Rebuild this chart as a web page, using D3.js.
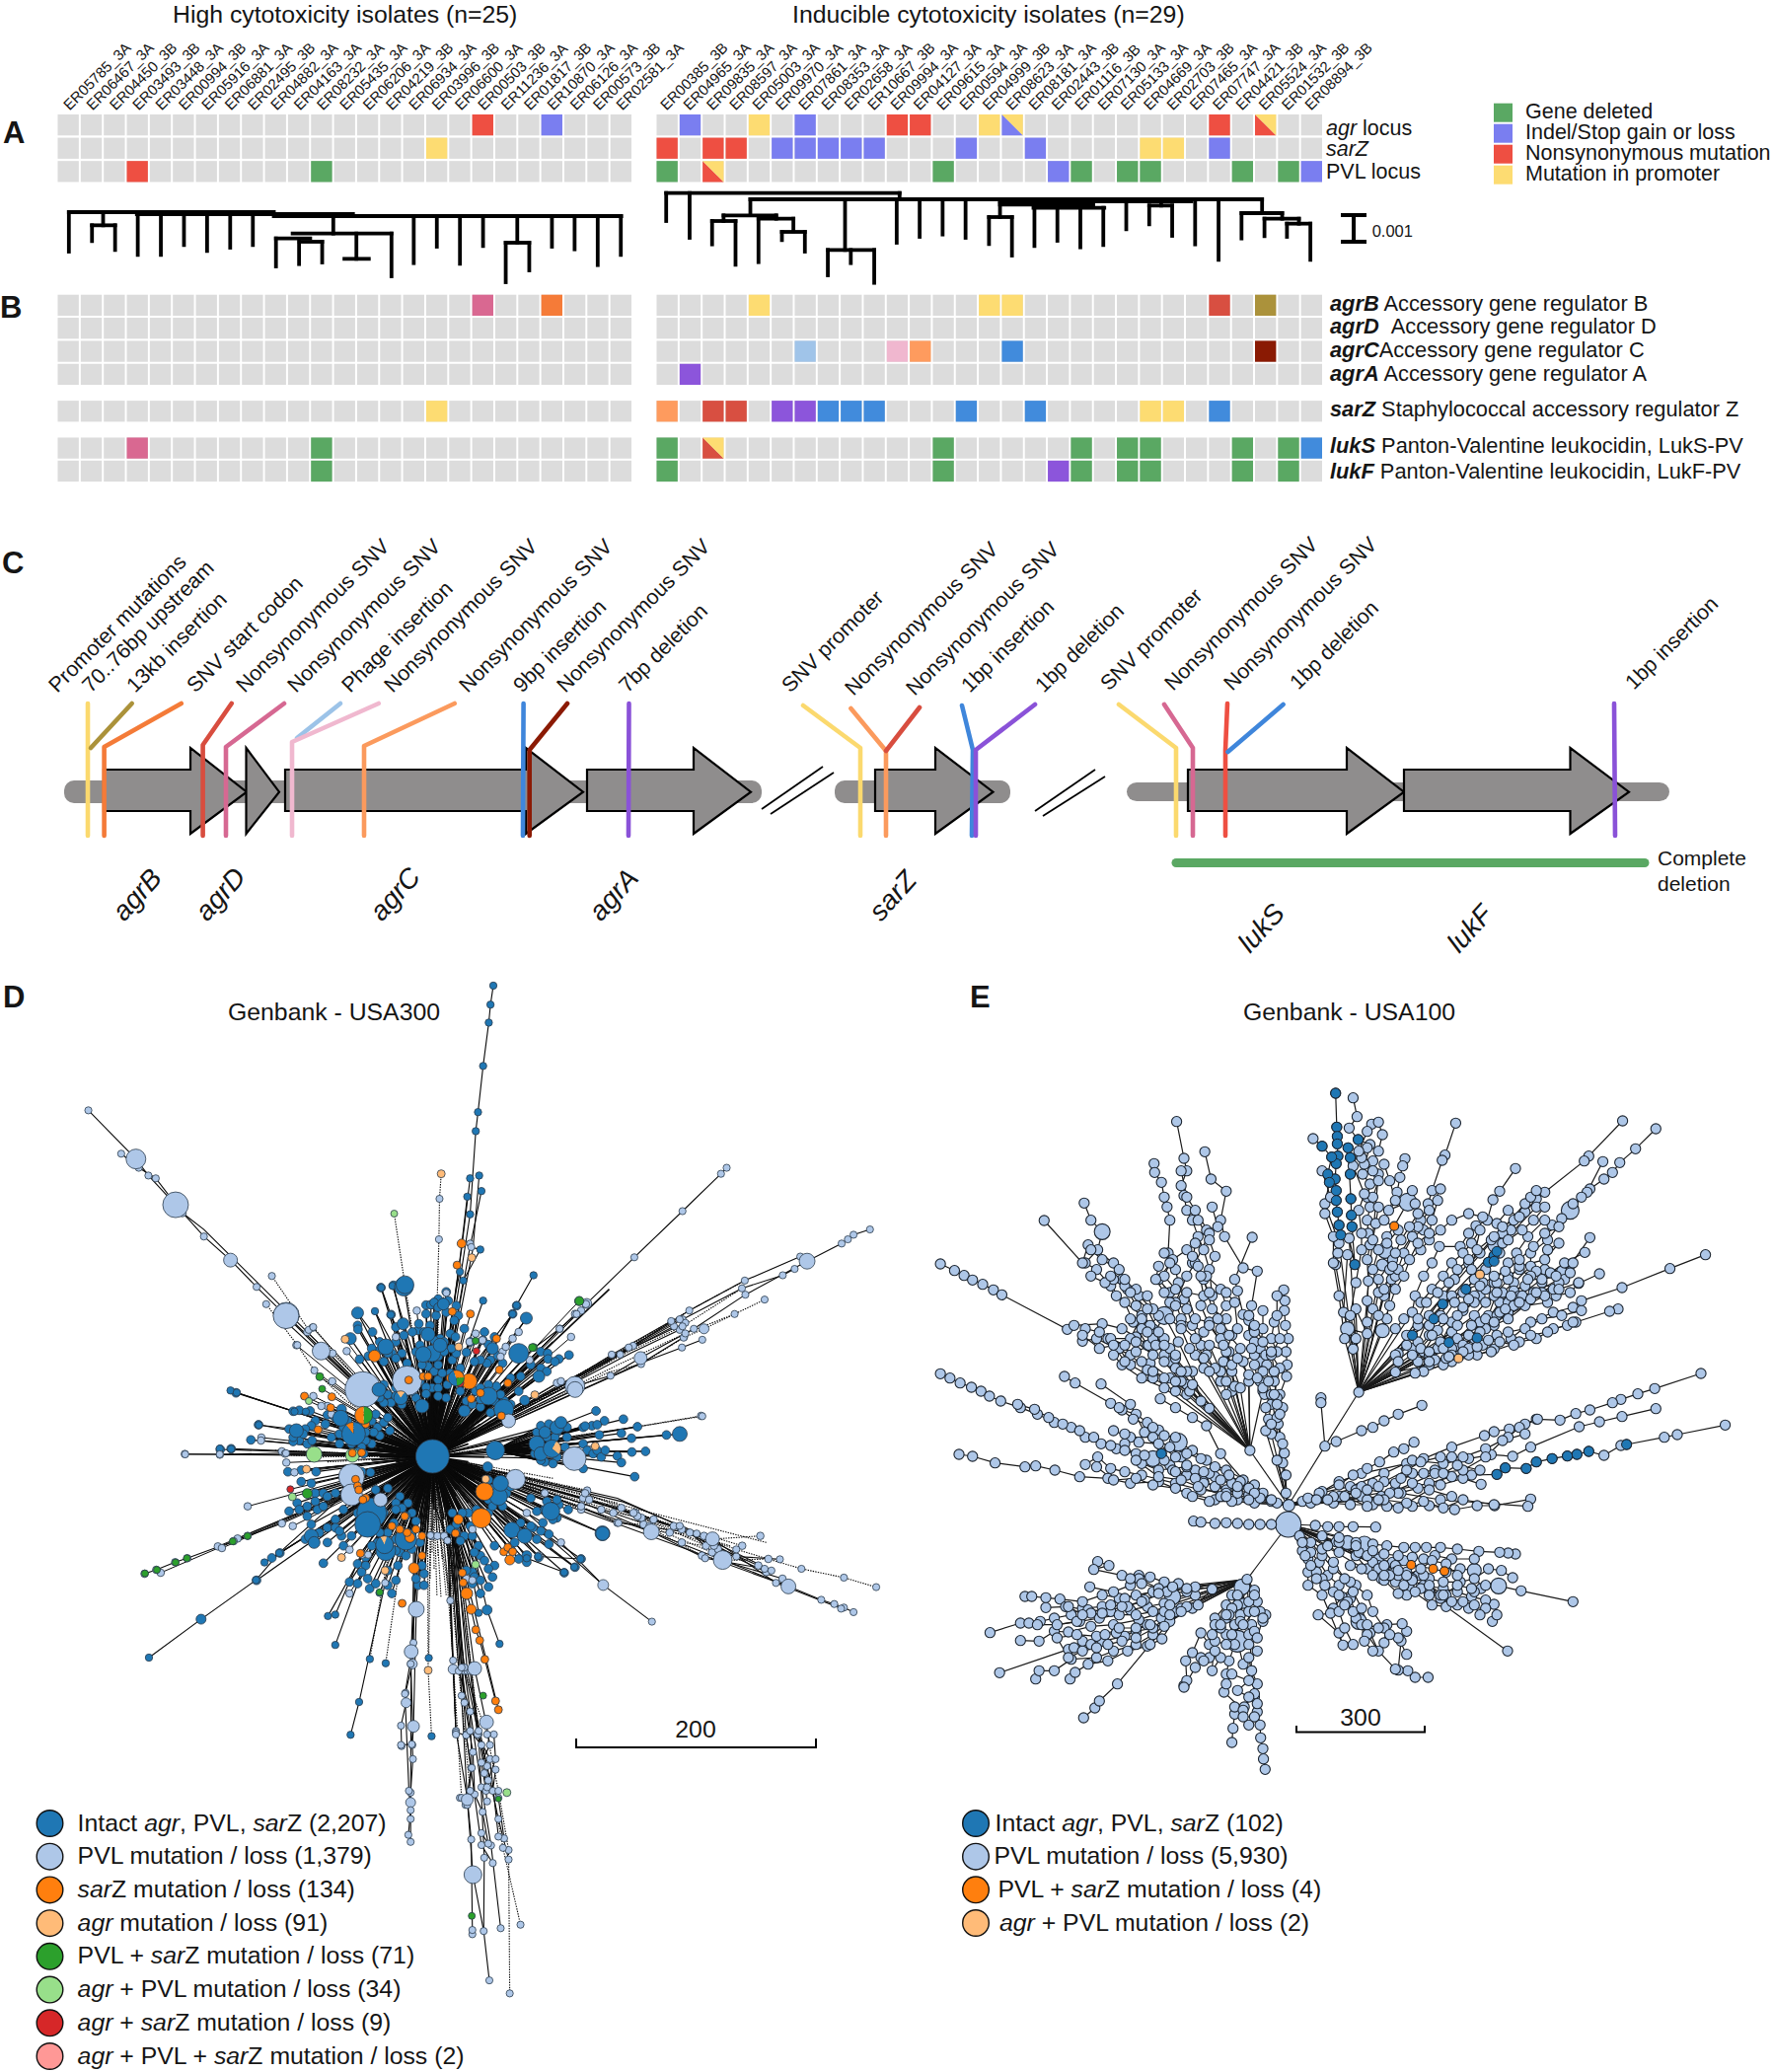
<!DOCTYPE html>
<html><head><meta charset="utf-8">
<script src="https://cdn.jsdelivr.net/npm/d3@7"></script>
<style>html,body{margin:0;padding:0;background:#fff}svg{display:block}text{font-family:"Liberation Sans",Arial,sans-serif;fill:#151515}</style>
</head><body><svg id="c" width="1796" height="2100"></svg>
<script>
// ---------- panel A / B data ----------
const leftIsolates=["ER05785_3A","ER06467_3A","ER04450_3B","ER03493_3B","ER03448_3A","ER00994_3B","ER05916_3A","ER06881_3A","ER02495_3B","ER04882_3A","ER04163_3A","ER08232_3A","ER05435_3A","ER06206_3A","ER04219_3B","ER06934_3A","ER03996_3B","ER06600_3A","ER00503_3B","ER11236_3A","ER01817_3B","ER10870_3A","ER06126_3A","ER00573_3B","ER02581_3A"];
const rightIsolates=["ER00385_3B","ER04965_3A","ER09835_3A","ER08597_3A","ER05003_3A","ER09970_3A","ER07861_3A","ER08353_3A","ER02658_3A","ER10667_3B","ER09994_3A","ER04127_3A","ER09615_3A","ER00594_3A","ER04999_3B","ER08623_3A","ER08181_3A","ER02443_3B","ER01116_3B","ER07130_3A","ER05133_3A","ER04669_3A","ER02703_3B","ER07465_3A","ER07747_3A","ER04421_3B","ER05524_3A","ER01532_3B","ER08894_3B"];
const stateColor={G:"#5aa863",B:"#7a7ef0",R:"#ee4f42",Y:"#fddc72",P:"#d96891",O:"#f57b38",L:"#fe9b5e",D:"#d84f41",W:"#ab923b",S:"#a0c4e9",K:"#f0b7cf",U:"#418bdc",X:"#8a1a03",V:"#8c55db"};
const locusRows=["agr","sarZ","PVL"];
const locusLeft={agr:[[18,"R"],[21,"B"]],sarZ:[[16,"Y"]],PVL:[[3,"R"],[11,"G"]]};
const locusRight={agr:[[1,"B"],[4,"Y"],[6,"B"],[10,"R"],[11,"R"],[14,"Y"],[15,"BY"],[24,"R"],[26,"RY"]],
 sarZ:[[0,"R"],[2,"R"],[3,"R"],[5,"B"],[6,"B"],[7,"B"],[8,"B"],[9,"B"],[13,"B"],[16,"B"],[21,"Y"],[22,"Y"],[24,"B"]],
 PVL:[[0,"G"],[2,"RY"],[12,"G"],[17,"B"],[18,"G"],[20,"G"],[21,"G"],[25,"G"],[27,"G"],[28,"B"]]};
const geneRows=["agrB","agrD","agrC","agrA","sarZ","lukS","lukF"];
const geneRowPos=[0,1,2,3,4.6,6.2,7.2];
const geneLeft={agrB:[[18,"P"],[21,"O"]],agrD:[],agrC:[],agrA:[],sarZ:[[16,"Y"]],lukS:[[3,"P"],[11,"G"]],lukF:[[11,"G"]]};
const geneRight={agrB:[[4,"Y"],[14,"Y"],[15,"Y"],[24,"D"],[26,"W"]],agrD:[],agrC:[[6,"S"],[10,"K"],[11,"L"],[15,"U"],[26,"X"]],agrA:[[1,"V"]],
 sarZ:[[0,"L"],[2,"D"],[3,"D"],[5,"V"],[6,"V"],[7,"U"],[8,"U"],[9,"U"],[13,"U"],[16,"U"],[21,"Y"],[22,"Y"],[24,"U"]],
 lukS:[[0,"G"],[2,"DY"],[12,"G"],[18,"G"],[20,"G"],[21,"G"],[25,"G"],[27,"G"],[28,"U"]],
 lukF:[[0,"G"],[12,"G"],[17,"V"],[18,"G"],[20,"G"],[21,"G"],[25,"G"],[27,"G"]]};
const stateLegend=[["G","Gene deleted"],["B","Indel/Stop gain or loss"],["R","Nonsynonymous mutation"],["Y","Mutation in promoter"]];
const geneDescriptions=[["agrB"," Accessory gene regulator B",315],["agrD","\u00a0\u00a0Accessory gene regulator D",338],["agrC","Accessory gene regulator C",362],["agrA"," Accessory gene regulator A",385.7],["sarZ"," Staphylococcal accessory regulator Z",421.7],["lukS"," Panton-Valentine leukocidin, LukS-PV",459],["lukF"," Panton-Valentine leukocidin, LukF-PV",485]];
// dendrogram segments, read as x1,y1,x2,y2
const dendLeft=[[161,645,640,645],[320,651,825,651],[640,657,1452,657],[161,645,161,765],[241,650,241,685],[215,685,269,685],[215,685,215,733],[269,685,269,760],[322,655,322,775],[376,655,376,775],[430,655,430,745],[484,655,484,763],[538,655,538,753],[591,655,591,745],[779,657,779,710],[684,710,915,710],[645,725,725,725],[700,735,753,735],[645,725,645,810],[699,735,699,803],[753,735,753,798],[833,710,833,787],[805,787,862,787],[915,710,915,840],[967,660,967,800],[1021,660,1021,750],[1075,660,1075,802],[1129,660,1129,748],[1209,660,1209,738],[1182,738,1237,738],[1182,738,1182,858],[1237,738,1237,822],[1290,660,1290,750],[1343,660,1343,758],[1397,660,1397,806],[1451,660,1451,775]];
const dendRight=[[52,587,540,587],[52,587,52,672],[101,587,101,723],[540,587,540,605],[228,606,1298,606],[750,612,1150,612],[228,606,228,652],[172,655,282,655],[172,655,172,672],[148,672,197,672],[148,672,148,743],[197,672,197,805],[245,665,318,665],[282,655,282,665],[245,665,245,797],[318,665,318,703],[294,705,342,705],[294,705,294,730],[342,705,342,765],[426,606,426,760],[390,760,487,760],[390,760,390,837],[438,760,438,800],[487,760,487,860],[534,606,534,738],[582,612,582,720],[630,612,630,713],[678,612,678,723],[750,612,750,660],[727,660,775,660],[727,660,727,742],[775,660,775,777],[750,622,945,622],[820,632,968,632],[822,622,822,748],[870,622,870,732],[918,625,918,752],[966,632,966,745],[1014,612,1014,697],[1087,612,1087,625],[1062,625,1110,625],[1062,625,1062,682],[1110,625,1110,717],[1158,612,1158,743],[1207,612,1207,790],[1298,606,1298,645],[1255,648,1340,648],[1255,648,1255,725],[1340,648,1340,665],[1303,665,1375,665],[1303,665,1303,718],[1375,665,1375,680],[1350,680,1399,680],[1350,680,1350,720],[1399,680,1399,790]];
// ---------- panel C data ----------
const backbones=[[65,772],[846,1024],[1142,1692]];
const geneArrows=[{s:105,b:193,t:250},{s:249.5,b:249.5,t:283},{s:289,b:533,t:591},{s:595,b:703,t:761},{s:887,b:948,t:1006.5},{s:1204,b:1365,t:1423},{s:1423,b:1591.5,t:1651}];
const breaks=[[772,820,834,777],[781,825,845,783],[1049,822,1110,780],[1057,827,1120,787]];
const mutationLines=[
 ["#fbd96e",[[89,713],[89,847]]],["#ab923a",[[133.7,713],[92,758]]],["#f47b38",[[183.7,713],[105.6,757],[105.6,847]]],["#d84d3f",[[234.7,713],[205.6,755],[205.6,847]]],["#d66892",[[288,713],[229,757],[229,847]]],["#9cc3e8",[[345,713],[301,748]]],["#f0b8cf",[[383.7,713],[296,752],[296,847]]],["#fb9a5d",[[460.7,713],[369,756],[369,847]]],["#3f86db",[[530.6,713],[530,847]]],["#8b1a04",[[575,713],[536.7,760],[536.7,847]]],["#8a52d8",[[637.5,713],[637,847]]],
 ["#fbd96e",[[814,715],[872,758],[872,847]]],["#fb9a5d",[[862.4,718],[898,761],[898,847]]],["#d84d3f",[[932,717],[898,761]]],["#3f86db",[[975,715],[986,760],[985,847]]],["#8a52d8",[[1049,714],[989,760],[989,847]]],
 ["#fbd96e",[[1134,714],[1192,758],[1192,847]]],["#d66892",[[1180,714],[1209,758],[1209,847]]],["#ee4f42",[[1244,713],[1242,760],[1242,847]]],["#3f86db",[[1300.6,714],[1244.5,762]]],["#8a52d8",[[1636,713],[1637,847]]]];
const mutationLabels=[["Promoter mutations",58,703],["70..76bp upstream",92,703],["13kb insertion",137,703],["SNV start codon",198,703],["Nonsynonymous SNV",248,703],["Nonsynonymous SNV",300,703],["Phage insertion",355,703],["Nonsynonymous SNV",398,703],["Nonsynonymous SNV",474,703],["9bp insertion",529,703],["Nonsynonymous SNV",573,703],["7bp deletion",636,703],["SNV promoter",801,703],["Nonsynonymous SNV",865,706],["Nonsynonymous SNV",927,706],["1bp insertion",983,703],["1bp deletion",1058,703],["SNV promoter",1124,701],["Nonsynonymous SNV",1189,701],["Nonsynonymous SNV",1249,701],["1bp deletion",1316,700],["1bp insertion",1656,700]];
const geneNames=[["agrB",126,935],["agrD",210,935],["agrC",387,935],["agrA",609,935],["sarZ",893,935],["lukS",1267,967],["lukF",1479,967]];
// ---------- panels D / E : node colours and legends ----------
const nodeColors=["#1f77b4","#aec7e8","#ff7f0e","#ffbb78","#2ca02c","#98df8a","#d62728","#ff9896"];
const legendD=[[0,[["Intact "],["agr",1],[", PVL, "],["sar",1],["Z (2,207)"]]],[1,[["PVL mutation / loss (1,379)"]]],[2,[["sar",1],["Z mutation / loss (134)"]]],[3,[["agr",1],[" mutation / loss (91)"]]],[4,[["PVL + "],["sar",1],["Z mutation / loss (71)"]]],[5,[["agr",1],[" + PVL mutation / loss (34)"]]],[6,[["agr",1],[" + "],["sar",1],["Z mutation / loss (9)"]]],[7,[["agr",1],[" + PVL + "],["sar",1],["Z mutation / loss (2)"]]]];
const legendE=[[0,1008.6,[["Intact "],["agr",1],[", PVL, "],["sar",1],["Z (102)"]]],[1,1007.4,[["PVL mutation / loss (5,930)"]]],[2,1011.4,[["PVL + "],["sar",1],["Z mutation / loss (4)"]]],[3,1013,[["agr",1],[" + PVL mutation / loss (2)"]]]];
// ---------- tree D, read positions: star nodes around the hub (zoom A frame) ----------
const dHubA=[731,528];
const dBlueStar=[603,15,634,8,588,87,628,97,545,130,546,142,582,150,550,233,572,223,600,180,640,135,695,145,681,150,660,160,640,180,630,215,655,215,668,245,690,210,720,255,735,270,745,295,730,320,715,318,700,300,715,338,745,320,768,310,765,350,745,345,690,350,640,320,620,340,628,365,655,370,610,365,590,340,715,68,727,67,745,50,765,28,790,70,795,100,785,115,740,100,775,155,750,170,715,95,697,125,810,140,825,180,860,150,856,175,870,188,875,235,905,245,893,222,866,245,850,235,835,240,815,212,800,260,838,330,815,360,830,370,850,378,890,315,930,95,940,70,885,165,1000,210,1070,220,1045,232,1017,215,1018,232,1035,240,1000,260,1015,270,975,250,950,285,945,330,925,290,910,360,875,395,780,235,790,215,778,200,760,180,788,165,
385,391,400,388,427,390,470,402,490,410,465,430,440,420,430,435,415,445,375,445,400,480,385,483,420,490,432,480,480,470,500,460,595,440,610,425,625,450,600,465,580,490,565,480,580,420,590,400,620,410,585,455,555,500,530,490,500,490,560,520,545,515,
405,605,430,610,440,640,460,640,470,650,440,665,420,680,395,670,375,695,400,690,420,710,445,690,460,680,490,640,510,690,490,720,470,745,490,745,505,770,500,755,540,575,555,575,577,577,590,630,620,625,650,650,640,670,670,670,655,685,680,700,690,725,665,710,640,690,610,700,620,760,585,745,595,790,
580,800,565,835,545,855,565,860,555,880,525,910,545,915,570,900,575,930,590,915,620,875,620,920,640,905,645,860,650,820,665,830,695,920,690,900,710,885,710,920,705,860,630,945,
790,735,775,750,780,700,790,760,810,770,825,740,870,660,870,700,845,800,850,830,835,820,885,800,860,845,885,860,870,870,830,880,815,875,835,895,850,905,880,895,870,925,830,915,850,945,815,900,
975,655,990,695,1015,665,1045,675,1068,690,1040,715,1000,755,1020,765,980,745,950,730,965,850,925,810,945,840,1020,795,995,835,1100,840,1085,865,1058,882,990,780,870,625,
229,328,243,335,299,432,280,478,204,507,231,505,372,575,405,570,442,575,314,851,332,837,352,822,460,853,294,905,430,735,415,780,450,760,470,790,510,800,530,770,
735,60,770,55,745,75,765,90,600,205,620,215,580,200,640,230,610,240,725,130,710,150,735,175,700,190,745,225,760,210,705,250,745,250,775,275,755,275,800,330,850,355,885,360,900,340,925,370,850,320,870,310,610,310,585,305,640,345,600,350,680,330,655,345,520,470,510,440,550,440,565,455,520,420,400,450,385,470,410,460,820,700,805,700,840,690,880,680,905,680,880,625,870,600,915,640,925,620,580,680,560,700,600,720,635,730,545,700,640,780,600,760,700,790,680,810,640,815,830,770,800,785,935,790,945,760,975,740,1005,730,1030,720,1010,690,1040,660];
const dLightStar=[692,85,838,155,823,180,855,175,905,210,913,195,900,225,945,150,930,170,640,165,518,208,437,267,483,215,433,137,393,190,420,150,482,300,480,400,470,375,455,375,435,345,1047,140,1075,165,1100,85,1112,65,1085,95,1040,305,1050,300,972,235,730,770,743,770,760,770,830,750,815,900,830,905,525,945,525,812,995,830,306,471,305,480,357,513,365,520,368,547,388,577,116,521,203,523,272,680,384,740,198,802,208,807,247,778,56,882,600,680,590,700];
const dLightDashChains=[[1115,632,1105,655,1100,690,1010,640],[1565,840,1450,845,1400,830,1255,735,1190,730,1100,680],[1545,770,1425,780,1405,770,1320,760,1275,755,1200,685],[1500,800,1345,743,1235,700,1110,640],[1398,405,1240,438],[1350,790,1410,800,1250,715,1150,690],[1425,820,1270,740,1180,700]];
const dSolidChains=[[16,885,45,873,92,850,122,838,237,786,272,770,357,732],[1155,920,1050,790,965,700],[1600,900,1450,845,1370,760,1280,720],[1560,880,1440,810,1350,750,1240,710,1120,660],[1540,860,1430,800,1330,740,1230,700]];
const dRightHubA=[887,510];
const dRightStar=[990,455,1000,435,1020,430,1040,455,1055,440,1065,470,1060,500,1040,530,1010,545,1030,550,1000,540,985,520,1090,550,1105,565,1105,490,1115,510,1130,520,1140,510,1150,530,1160,510,1105,440,1065,440,1035,470,1015,470,1312,463,1205,415,1137,390,1260,513,1190,527,1225,473,1200,458,1158,420,1127,435,1110,436,1140,432,1233,590,1200,547,1226,515,1145,463,1240,438];
const dBigNodes=[[368,99,13,1],[350,100,4,1],[455,208,10,1],[558,325,18,1],[668,298,15,1],[937,598,10,1],[1083,535,12,1],[530,590,13,1],[530,645,11,1],[602,660,7,1],[920,420,7,1],[1085,325,8,1],[887,510,9.5,0],[1345,460,7.5,0],[1153,762,7.5,0],[945,215,10,0],[708,218,8,0],[730,215,8.5,0],[908,385,10,0],[580,700,15,0],[570,735,13,0],[665,780,11,0],[615,815,10,0],[705,375,7,0],[810,390,6,0],[1025,695,9,0],[960,770,7.5,0],[928,752,8,0],[430,770,7,0],[437,790,6,0],[393,450,7,0],[503,412,8,0],[598,325,7,0],[615,195,8,0],[720,157,7,0],[750,190,7,0],[660,12,9.5,0],[758,65,6,0],[735,65,5,0],[995,285,6,0],[870,345,9,0],[895,650,9,0],[900,610,8,0],[990,490,8,0],[1000,520,7,0],[1010,455,6,0],[1040,440,7,0],[1050,425,6,0],[545,92,6,0],[658,125,6,0],[527,170,6,0],[880,200,6,0],[964,108,6,0],[505,385,5,0],[960,358,5,0],[868,560,5,0],[965,830,5,0],[860,635,9,2],[852,716,10,2],[822,300,8,2],[587,223,6,2],[685,868,5.5,2],[815,945,6,2],[437,522,8,5],[532,525,7,5],[420,641,5,4]];
const dSmallColored=[[1095,56,4.5,4],[451,286,4,4],[457,323,3.5,4],[838,177,3.5,4],[982,197,4,4],[600,941,3.5,4],[383,651,4,5],[424,360,3.5,5],[838,857,4,5],[840,208,3.5,6],[378,628,3.5,6],[799,305,4,6],[796,195,4,3],[514,172,4,3],[985,341,4,3],[418,567,4,3],[1135,497,4,3],[505,835,4,3],[613,875,4,3],[863,597,4,3],[672,296,4,2],[780,88,4,2],[825,95,4,2],[890,170,4,2],[918,305,4,2],[897,265,4,2],[708,285,4,2],[720,285,4,2],[775,290,4,2],[850,335,4,2],[827,353,4,2],[902,405,4,2],[413,345,4,2],[481,347,4,2],[478,380,4,2],[447,447,4,2],[532,518,4,2],[555,517,4,2],[565,430,4,2],[540,598,4,2],[545,618,4,2],[548,630,4,2],[565,655,4,2],[558,660,4,2],[630,740,4,2],[650,750,4,2],[668,760,4,2],[675,775,5,2],[690,750,4,2],[705,770,4,2],[662,710,4,2],[795,720,5,2],[788,762,4,2],[552,823,4,2],[705,830,4,2],[908,818,4,2],[918,805,4,2],[930,818,4,2],[923,843,5,2],[805,882,4,2],[807,912,4,2]];
const dPies=[[535,460,12,-0.7,[[2,.11],[0,.89]]],[560,403,9,0,[[4,.5],[2,.5]]],[1028,505,9,0.5,[[3,.28],[0,.72]]],[790,290,8,-0.4,[[2,.3],[4,.25],[0,.45]]],[652,350,7,-0.6,[[3,.2],[0,.8]]],[612,797,9,-0.5,[[3,.12],[0,.88]]]];
const dSolidWedge=[640,470,620,480,650,500,630,510,650,525,640,545,650,560,635,575,660,580,650,600,670,600,665,625,690,615,685,640,700,620,705,650,660,450,680,440,670,425,695,430,700,410,715,420,725,400,740,410,755,405,770,415,785,400,800,430,820,420,835,440,810,460,850,430,790,480,835,465,820,490,800,520,820,545,845,560,820,580,835,600,800,610,825,625,790,630,790,650,770,620,760,660,745,640,730,670,600,530,580,540,615,505,590,510,1030,180,1170,20,1010,230,655,480,640,520,640,560,670,560,655,620,700,660,720,640,735,690,780,680,800,600,860,610,860,530,650,440,640,430,800,350,760,380,790,380,690,400,720,370,630,600,610,620,700,720,760,720,820,670];
const dDashWedge=[720,760,725,900,742,950,752,955,765,950,775,955,788,955,700,900,680,820,705,790,760,780,770,830,730,820,745,830,755,840,735,870,780,900,800,830,970,270,1340,110,1250,180,1100,290,1560,790,1410,790,1470,800,1110,630,1030,595,640,790,610,780,1190,670,360,525,340,510,420,530,470,545];
// ---------- tree D outer branches (zoom B frame, upper part) ----------
const dHubB=[764,1390];
const dUpperChains=[[871,53,866,107,863,158,853,281,844,412,840,466,830,702],[846,592,835,800],[850,636,828,810],[830,600,815,800],[825,652,812,830],[156,407,240,545,262,592,310,675,360,765,407,832,453,908,505,990,567,1090,640,1200],[214,530,245,570,275,600,322,698,360,745],[1283,570,1273,587,1205,693,1120,824,1036,955,1018,985,988,1027,940,1085],[1536,745,1507,760,1497,773,1486,785,1425,835,1316,930,1225,1027,1130,1110,1078,1160,1015,1190],[1413,822,1315,890,1217,975,1118,1075,1000,1180],[1403,857,1382,875,1310,912,1205,1000,1115,1080],[1240,1058,1204,1080,1130,1125],[830,785,832,795,848,802,818,890],[812,865,805,920],[1208,1050,1130,1127],[1210,1010,1105,1090],[1200,1030,1115,1095],[1200,1000,1110,1080,1000,1175],[1190,1020,1095,1100,990,1200],[1185,1005,1080,1100,985,1195],[942,875,912,960,905,985,850,1100],[853,947,820,1100],[930,998,880,1100],[673,910,715,1100],[693,905,730,1100],[632,982,700,1130],[662,977,720,1150],[690,987,735,1150],[407,1202,418,1208,520,1262,540,1262,600,1310],[457,1300,520,1312,600,1340],[327,1383,388,1383,505,1380,600,1380]];
const dUpperDashChains=[[779,587,776,658,775,773,772,940],[696,700,715,902],[480,877,545,1030,553,1022,620,1150],[470,957,525,1073,555,1145,610,1230],[1350,944,1297,985,1243,1027,1207,1052,1132,1127,1075,1150],[788,925,775,960],[1240,1275,1125,1305],[1315,890,1217,975,1100,1085],[1310,912,1205,1020,1100,1100],[1297,985,1210,1040,1090,1130]];
const dUpperBig=[[240,545,10,1],[310,675,13,1],[322,698,4,1],[407,832,7,1],[505,990,13,1],[492,990,4,1],[567,1090,9,1],[1425,835,8,1],[1015,1190,10,1],[1131,1110,6.5,1],[1243,1027,5,1],[1036,955,5,1],[715,902,9,0]];
const dUpperColored=[[779,587,4,3],[696,700,3.5,5],[815,785,4.5,2],[807,846,4,2],[833,825,4,3],[1023,948,4.5,4],[940,1080,4,4]];
const dUpperDefaultBlue=[871,53,866,107,863,158,853,281,844,412,840,466,846,592,850,636,830,600,825,652,830,702,848,802,818,890,812,865,942,875,912,960,905,985,853,947,930,998,673,910,693,905,632,982,662,977,690,987,407,1202,418,1208,520,1262,540,1262,457,1300,520,1312,388,1367,408,1368];
// ---------- tree D lower branches (zoom C frame) ----------
const dHubC=[764,-179];
const dLowerChains=[[263,392,355,283,452,172,493,95,600,-60],[579,274,640,100,680,-20],[592,270,640,90],[592,356,650,100,690,-30],[619,611,634,518,680,180,720,-20],[721,895,725,825,725,775,729,680,728,640,730,587,735,255,745,-30],[725,915,725,803,726,375,745,-30],[709,643,708,585,717,520,716,492,728,410,735,100],[725,850,725,825,722,770,715,495,730,350,730,-30],[708,640,727,638,729,590,725,410,726,375,735,-30],[864,1308,854,1168,835,1008,825,795,815,500,795,-30],[834,1177,834,1165,832,908,825,790,805,600,790,-30],[884,1160,867,925,850,760,820,430,795,-30],[854,1168,855,960,845,610,800,-30],[898,965,880,850,860,700,825,430,800,-30],[870,975,850,924,823,610,795,-30],[882,353,860,257,820,-30],[845,265,815,-30],[875,515,856,397,847,343,840,313,832,255,824,210,810,0],[880,540,830,210],[1151,290,1065,186,975,60],[1392,190,1276,115,1150,35,1040,-40],[1507,263,1490,250,1473,240,1450,228,1392,190],[1485,253,1370,180,1258,55,1100,-50],[1377,113,1300,105,1200,18,1090,-60],[1350,140,1245,110,1150,35],[1362,145,1230,40,1092,10,1000,-50],[1025,112,950,105,880,-30],[996,150,930,110,860,-40],[1014,135,900,0],[1064,40,960,-30],[812,790,822,810,832,705,823,612,805,605,800,425,790,60,770,-30],[825,810,833,705,830,545,810,430,790,-30],[860,800,858,770,850,690,865,640,858,575,838,423,800,-30],[875,710,870,770,880,790,890,905,880,900,865,680,843,610,830,430,795,-30],[855,720,860,760,845,610,820,420,785,-30],[850,890,862,920,852,830,838,780,835,660,820,520,800,-30],[872,610,875,680,862,740,850,640,830,600,815,420,790,-30]];
const dLowerDashChains=[[653,396,700,-30],[681,408,720,-30],[757,393,760,-30],[762,615,756,428,755,-30],[900,1345,898,938,880,770,860,610,820,430,790,-30],[919,1150,888,932,870,770,845,600,800,-30],[1547,192,1490,165,1415,140,1300,85,1100,-30],[800,425,790,60,775,-30],[805,610,795,230,770,-30],[815,790,800,400,780,-30],[830,770,810,430,785,-30],[760,45,770,-30]];
const dLowerBig=[[835,1008,9,1],[859,575,7,1],[838,423,7,1],[800,425,5,1],[825,795,6,1],[1392,190,7.5,1],[1276,115,9.5,1],[1150,35,8,1],[1258,55,7,1],[1065,186,5.5,1],[735,255,8,1],[730,587,6,1],[726,375,7,1],[728,410,5,1],[725,803,5,1],[717,520,5,1],[1064,40,7,0],[860,257,5,0],[355,283,5,0],[824,210,6,2],[832,255,5,2]];
const dLowerColored=[[853,500,3.5,4],[895,775,4,5],[880,793,3,4],[833,1125,3.5,4],[875,515,4,2],[880,540,4,2],[856,397,4,2],[847,343,4,2],[840,313,4,2],[756,428,4,3],[710,238,4,2],[603,108,4,3]];
const dLowerBlue=[263,392,452,172,467,122,493,95,579,274,592,270,592,356,653,396,681,408,634,518,619,611,757,393,762,615,882,353,845,265,1025,112,996,150,1014,135,950,105,930,110,670,208];
const dLowerGreen=[[256,153,3.5,4],[277,143,3.5,4],[310,122,3.5,4],[330,110,3.5,4],[411,62,3.5,4],[437,47,3.5,4]];
// ---------- tree E, upper frame ----------
const eH=[710,1337], eP1=[835,993], eP2=[642,1170], eP3=[775,1157];
const eP1Chains=[[794,84,796,187,797,215,797,238,798,275,795,298,793,345,795,380,795,410,797,445,800,485,803,515,798,570,794,605],[815,575,808,750,825,862],[754,222,770,245,787,278,780,330,783,355,775,420,800,540],[820,330,820,280,816,250,821,405,822,455,823,490,828,605,818,525],[815,800,850,815,830,740],[825,98,832,155,818,190,834,225,855,240,842,330,855,360,850,400,855,430,850,470,852,510,855,545,850,590,852,655,850,715,850,780],[858,178,870,172,877,210,870,260,860,290,845,300,870,330],[917,283,913,305,908,340,903,385,888,440,922,415,898,488,885,520,882,562,877,606,893,650,885,770,877,806],[915,770,900,800],[1007,175,988,272,983,288,965,380,958,420,945,470,950,500,930,520,915,570,900,640,880,700],[980,375,960,440,940,490,890,620],[1113,313,1085,382,1073,408,1063,470,1043,487,1030,510,1015,550,978,550,965,600,950,640,935,700,930,750],[1303,168,1243,275,1235,290,1165,385,1150,405,1130,445,1105,500,1090,540,1078,545,1075,578,1065,598,1050,635,1025,680,984,725,968,770,930,820,905,875],[1362,192,1326,253,1298,295,1285,325,1270,345,1245,375,1210,440,1195,465,1178,485,1165,470,1135,520,1115,570,1100,600,1075,660,1050,700,1020,745,995,842,975,805,950,870],[1268,292,1240,385,1230,400,1170,530,1140,570,1140,610,1110,660,1090,690,1060,720,1040,760,1000,810],[1245,523,1212,603,1195,625,1165,620,1150,625,1130,670,1110,685,1085,720,1040,830,1010,870,960,910,900,932],[1236,568,1200,600,1175,630,1120,700,1100,750,1075,790,1045,828,1005,855,940,900],[1450,575,1387,617,1302,675,1230,715,1215,735,1180,750,1140,780,1105,830,1075,862,1045,880,1000,900,950,930],[1295,740,1280,747,1220,780,1205,790,1180,800,1150,830,1120,840,1070,870,1030,880,985,910],[1262,633,1225,662,1210,690,1185,700,1170,720,1130,730,1100,770,1060,800,1030,820,1000,860,960,880,930,860],[920,850,975,860,1000,780,1020,735,1040,700,1060,680,1080,660,1100,640,1120,620,1140,640,1160,660,1180,680,1200,650],[900,880,940,840,960,760,985,700,1005,650,1030,600,1050,570,1070,530,1090,510,1110,470,1130,420,1150,430],[930,880,960,820,1010,760,1040,720,1075,700,1100,720,1125,700,1145,690,1160,690,1190,660,1210,630],[945,720,965,680,985,640,1000,600,1020,570,1035,540,1050,500,1035,620,1055,660,1000,700,980,760,960,790,940,790],[905,620,925,590,945,560,960,530,980,500,1000,470,1030,450,1055,460,1080,480,1100,440,1120,460,1140,400],[1170,560,1190,540,1165,590,1120,610,1100,650,1080,690,1065,760,1050,780,1080,760,1110,730,1140,710,1165,700],
[1150,380,1130,420,1110,470,1090,490,1075,520,1045,560,1030,590,1010,620,995,660,975,690,955,720,940,770,920,820,905,900],[1165,430,1145,470,1125,500,1100,530,1085,570,1060,620,1040,650,1020,690,1005,720,985,770,965,820,945,860],[1245,375,1215,420,1190,490,1165,510,1145,550,1120,590,1095,625,1075,640,1050,670,1030,710,1010,790,980,840,960,870],[1215,600,1185,640,1160,650,1135,650,1105,700,1085,750,1060,770,1035,790,1010,830,985,860],[1225,660,1190,680,1150,690,1120,720,1095,740,1075,780,1050,810,1020,850,990,890],[1230,745,1195,760,1160,770,1130,800,1100,810,1080,820,1055,850,1030,860,1000,880,970,895],[1215,780,1170,810,1140,820,1110,850,1085,840,1065,835,1045,855,1020,870,995,885,960,900,935,935],[850,250,840,280,860,320,870,350,860,400,870,430,865,480,860,530,870,560,860,620,870,690],[880,300,890,350,900,410,880,470,905,500,885,540,895,590,870,650,860,740],[930,380,935,420,940,450,925,490,910,530,900,570,895,610,880,680,870,760],[975,410,965,470,960,510,940,540,925,590,915,640,900,680,890,730],[850,200,835,260,825,305,845,390,835,440,840,510,840,560,830,660,820,760,830,830],[770,320,785,400,775,450,790,520,790,600,800,700,810,830]];
const eP2Chains=[[512,170,525,282,530,320,520,365,525,395,530,440,540,470,550,520,560,560,570,620,575,700,590,800,595,900,610,990],[562,262,573,345,600,382,590,470,597,520,630,615,655,625,645,730,640,820,660,900,665,990],[472,298,473,325,485,355,490,400,495,430,500,470,497,570,510,620,515,660,525,710,540,790,555,850,565,880,590,960,615,975],[348,418,360,470,380,505,372,560,350,600,370,620,395,670,420,720,435,780,460,850,490,760,515,840,540,930,555,1020,570,1042],[277,471,345,600,355,545,400,600,415,650,440,730,470,800,500,900,530,970,555,1020],[93,603,118,623,135,638,150,652,168,665,187,682,202,697,318,802,330,790,380,785,415,800,440,825,462,850,465,905,500,950,530,1000],[345,838,370,830,405,860,430,880,460,925,490,950,535,990],[646,522,615,650,620,685,630,757,640,775,640,820,650,880,630,900,640,960],[575,430,585,490,565,500,545,540,540,600,560,650,575,740,600,770,590,830,605,870,570,850,590,930,600,1000],[520,320,530,400,545,440,570,510,545,600,530,640,510,720,520,770,560,810,545,880,560,920],[400,650,425,680,445,700,480,760,465,790,490,830,440,870,410,860,430,910,470,950,510,990],[360,640,385,660,405,700,450,760,430,830,390,830,400,880,415,910,450,950,490,980],[500,690,480,650,505,590,530,560,550,610,560,700,530,690,545,770,570,780,600,870,610,930],
[490,570,500,600,490,640,510,680,500,720,530,740,520,790,545,830,560,890,580,920,600,960],[480,610,475,650,490,690,510,730,500,770,520,800,535,860,570,930],[550,470,570,530,580,580,565,640,590,680,600,730,585,770,610,820,600,870],[540,580,555,640,570,690,555,730,570,790,595,850,610,910,625,980],[600,690,615,720,620,800,605,820,625,860,620,890,640,940],[360,560,380,590,410,620,395,640,420,670,440,680,460,700,470,740,450,770,470,830,490,880,510,920],[420,650,430,690,460,740,480,810,475,850,500,860,510,890,530,930],[350,800,375,810,395,830,420,850,440,840,470,880,490,900,520,960],[345,820,375,860,400,850,420,900,450,900,470,930,510,960],[430,770,450,800,460,810,490,850,510,880,520,930,540,970]];
const eHChains=[[702,682,704,715,703,745,705,790,710,830,706,870,708,910,707,945,695,1000,700,1040,692,1090,695,1130,703,1178,700,1208,706,1245,706,1300],[665,745,665,800,660,860,672,910,660,960,668,1000,680,1030,675,1075,690,1070,680,1120],[685,780,680,830,690,870,670,880,650,840,665,930,685,960,690,1010,670,1040,670,1110],[640,760,650,810,645,860,650,910,655,950,665,980,680,1000],[690,700,690,760,695,830,680,880,695,920,685,1000,690,1030],[650,790,665,840,680,870,685,930,675,960,680,1000,695,1060,680,1090,700,1150,690,1200],[93,937,110,950,128,965,148,978,165,990,180,1005,200,1020,235,1040,265,1060,295,1085,325,1100,350,1130,378,1150,405,1165,440,1180,470,1195,500,1215,530,1245,560,1265,600,1290,640,1305,680,1325],[313,945,332,965,395,1027,415,1047,440,1060,460,1085,480,1108,515,1145,540,1170,565,1200,600,1230,650,1275,690,1330],[378,968,430,1030,455,1115,485,1180,470,1195,505,1230,560,1270,620,1290],[483,1013,510,1040,540,1070,565,1095,590,1180,630,1260,680,1320],[126,1182,150,1188,190,1208,243,1220,262,1217,296,1230,340,1250,390,1255,430,1270,480,1265,530,1300,580,1320,650,1330],[350,1213,372,1190,395,1225,420,1235,450,1245,510,1270,555,1290,600,1300],[400,1110,430,1130,470,1130,500,1160,520,1190,545,1230,580,1250,610,1270,640,1285],[420,1150,450,1210,480,1230,530,1220,570,1240,590,1310,620,1320,665,1300],[230,1030,260,1045,285,1070,310,1090,340,1110,365,1130,395,1155,420,1170,455,1185,490,1200,510,1235,545,1255,580,1280,620,1300,660,1315],[410,1040,435,1075,470,1100,490,1125,510,1130,530,1180,555,1195,580,1220,605,1245,625,1265,650,1300],[420,1120,445,1145,480,1150,510,1190,530,1215,560,1235,590,1260,620,1280],[370,1220,400,1260,440,1255,470,1275,510,1285,540,1310,570,1325,610,1325],[440,1200,480,1250,520,1260,550,1280,600,1310,640,1320],[1442,936,1360,982,1330,998,1300,1015,1285,1025,1245,1047,1220,1058,1192,1078,1150,1075,1130,1090,1102,1105,1075,1113,1058,1125,1000,1160,950,1195,920,1210,840,1240,800,1265,770,1295,735,1325],[1485,1093,1400,1122,1377,1130,1310,1152,1300,1155,1270,1185,1243,1173,1222,1182,1205,1187,1178,1195,1150,1205,1132,1225,1095,1223,1080,1243,1035,1245,1000,1250,960,1270,900,1290,840,1310],[1362,1043,1302,1067,1262,1083,1226,1098,1140,1160,1108,1188,1070,1183,1030,1195,985,1210,930,1200,880,1240,820,1280,765,1300],[1140,1318,1076,1338,1045,1338,1005,1350,960,1338,930,1340,885,1340,860,1335,820,1335,790,1330,750,1330],[1135,1340,980,1320,910,1300,850,1320,800,1310],[933,1145,915,1165,897,1175,872,1205,850,1225,825,1245,800,1275,770,1295,745,1315],[1052,1273,1020,1255,980,1275,940,1285,905,1300,875,1310],[1000,1190,970,1230,930,1240,900,1270,860,1270,830,1290,790,1310,760,1320],[1152,1075,1120,1100,1100,1130,1060,1165,1020,1190,980,1190,945,1205,920,1230,880,1265,840,1280],[1130,1120,1090,1140,1060,1190,1020,1230,970,1240,930,1270,890,1300,850,1290],[1000,1310,960,1290,920,1330,880,1320,850,1340,810,1310,780,1320],[1050,1230,1010,1215,985,1240,950,1240,910,1255,870,1280,830,1300],[1075,1335,1020,1320,985,1345,950,1325,905,1345,870,1320]];
const eP3Chains=[[768,1010,768,1025],[947,1033,905,1060,880,1080,860,1100,840,1110,795,1143]];
const eLink=[[[835,993],[775,1157],[710,1337]],[[642,1170],[710,1337]]];
const eUpperDark=[[794,84],[796,187],[797,215],[797,238],[798,275],[795,298],[793,345],[795,380],[795,410],[797,445],[800,485],[803,515],[770,245],[787,278],[780,330],[783,355],[820,330],[820,280],[816,250],[821,405],[822,455],[823,490],[828,605],[834,225],[1075,578],[1080,565],[1065,598],[1075,595],[1025,680],[984,725],[968,770],[930,820],[995,842],[1045,828],[485,1180],[1310,1152],[1243,1173],[1222,1182],[1205,1187],[1178,1195],[1150,1205],[1132,1225],[1095,1223],[1080,1243]];
const eUpperBig=[[922,415,9,1],[882,562,8,1],[877,606,6,1],[815,800,7,1],[877,806,7,1],[1210,440,9,1],[1078,545,8,1],[380,505,8,1],[490,760,9,1],[515,1145,9,1],[470,1195,8,1],[898,488,4.5,2],[1050,635,4.5,3],[1012,890,4.5,3]];
// ---------- tree E, lower frame ----------
const eHub=[710,135], eH2=[711,77], eSub=[637,302];
const eHubChains=[[542,125,555,128,580,132,600,130,620,132,640,135,660,135,680,135],[865,143,825,142,800,142,780,142,758,138],[1215,370,1123,337,1083,322,1052,330,1040,275,1015,270,990,280,967,270,928,258,915,245,895,250,870,240,845,195,815,190,795,188,770,170],[1113,225,1100,222,1085,220,1048,217,1010,210,980,205,955,205,935,205,915,205,885,200,860,195],[1099,520,990,385,965,380,925,330,900,310,875,300,850,270,830,230,800,190],[1072,430,1080,410,1075,378,1060,365,1035,355,1010,340,985,330,950,320,920,350,905,345,880,305],[1108,297,1088,275,1065,270,1040,300,1015,310,985,310,960,300,940,290],[958,600,935,600,922,580,905,578,910,490,920,460,912,437,885,440,880,495,870,520,855,465,835,430,820,360,830,320,805,355,790,390,785,405,763,410,800,465,807,502,770,350,745,320,745,280,745,240,735,215,730,170],[900,575,870,520,850,470,830,420,815,370,800,320,780,290,765,250,750,220],[1040,340,1010,380,980,360,950,290,920,280,900,260,880,270],[1060,390,1030,390,990,350,960,340,930,300,900,280,870,260],[880,450,860,400,850,350,820,310,790,270,770,230,750,190],[825,500,810,450,800,400,790,340,770,300,760,280,750,260,740,230,735,190],[860,520,845,490,840,440,825,400,810,380,800,350,775,320,760,300,750,260],[920,530,905,480,890,470,870,450,850,440,840,390,825,340,810,300,790,250,770,210],[1050,410,1040,380,1020,370,1000,370,980,350,960,350,945,330,930,305,905,290,880,280,860,250,835,220],[1060,320,1035,330,1010,320,985,350,960,320,935,340,915,320,890,290,870,270,850,230],[1040,240,1000,240,970,230,950,240,930,235,905,230,880,225,860,215,830,190,800,175],[1010,290,990,255,965,245,945,270,920,290,905,275,880,260],[880,290,860,290,840,270,820,260,830,200,800,220,780,200]];
const eSubChains=[[669,880,666,848,665,817,661,784,660,745,655,705,650,660,655,620,645,580,630,560,620,490,615,440,625,410,630,375,628,325],[610,798,612,755,615,712,615,690,632,690,650,650,645,580],[640,745,630,700,596,645,600,590,605,550,615,500,625,410],[525,625,530,610,528,550,540,525,555,465,570,500,580,420,600,380,610,350],[665,430,670,410,660,400,655,370,650,335],[645,440,640,470,600,470,590,450,620,380],[181,464,235,435,250,435,270,430,295,420,325,410,345,390,380,385,410,360,440,350,470,340,505,355,545,350,575,332],[198,586,320,515,345,490,380,490,420,475,460,440,485,420,510,400,540,390,575,332],[262,605,268,580,295,580,325,545,370,540,400,520,440,500,470,470,500,430,550,380],[323,605,332,585,355,560,390,550,425,520,460,505,486,483,520,390],[347,723,367,693,375,672,407,620,465,500,520,390],[372,248,392,260,365,272,415,290,445,290,465,295,490,310,515,315,545,325,575,332],[243,354,255,354,280,358,305,362,345,370,380,350,420,360,470,340],[280,388,315,385,355,395,395,400,430,395,460,385,490,375],[235,488,268,490,295,460,320,462,360,445,400,440,445,425,490,400],[358,325,400,340,430,320,445,300,480,330],[300,480,335,470,370,475,405,465,440,460,470,450,500,410,530,385],[300,440,340,430,375,420,410,410,440,410,470,400,500,380],[265,440,300,440,335,430,360,405,395,380,425,385,455,365,495,340],[320,385,345,410,380,405,415,385,450,370,480,345,530,340],[330,510,360,500,385,470,410,450,440,450,465,440,490,445,520,400],[300,480,320,540,345,520,370,510,390,500,415,490,440,480],[430,300,450,315,480,330,505,325,530,330],[600,500,580,490,570,540,555,540,590,540,575,580,580,440,600,420,610,390],[600,620,610,590,640,610,620,640,640,660,630,720,650,720,655,680,640,540,655,520,640,500,650,460,625,430,640,400,640,370,650,350],[655,480,665,420,650,400,630,440,610,470,605,410,620,350],[525,630,545,570,560,550,580,520,575,470,590,440,600,410]];
const eLowerBig=[[710,135,13,1],[711,77,6,1],[1083,322,8,1],[1040,275,7,1],[845,195,8,1],[815,190,7,1],[835,430,8,1],[620,490,11,1],[628,325,8,1],[505,355,8,1],[987,277,4.5,2],[967,270,4.5,2],[928,258,4.5,2]];
// ---------- helpers ----------
const svg=d3.select("#c");
const frame=(o,f)=>d3.scaleLinear().domain([0,1]).range([o,o+1/f]);
function rich(g,x,y,size,parts,anchor){const t=g.append("text").attr("x",x).attr("y",y).attr("font-size",size).attr("xml:space","preserve");if(anchor)t.attr("text-anchor",anchor);parts.forEach(p=>{const s=t.append("tspan").text(p[0]);if(p[1])s.attr("font-style","italic");if(p[2])s.attr("font-weight","bold")});return t}
const pairs=a=>d3.range(0,a.length,2).map(i=>[a[i],a[i+1]]);
// ---------- titles & panel letters ----------
rich(svg,175,23,24.8,[["High cytotoxicity isolates (n=25)"]]);
rich(svg,803,23,24.8,[["Inducible cytotoxicity isolates (n=29)"]]);
[["A",3,145],["B",0,322],["C",2,581],["D",3,1021],["E",983,1021]].forEach(d=>svg.append("text").attr("x",d[1]).attr("y",d[2]).attr("font-size",31).attr("font-weight","bold").text(d[0]));
// ---------- grids ----------
const band=(n,a,b)=>d3.scaleBand().domain(d3.range(n)).range([a,b]).paddingInner(0.085);
const xL=band(25,58.5,640), xR=band(29,665.5,1340);
const yA=d3.scaleBand().domain(locusRows).range([116,184.5]).paddingInner(0.095);
const yB=d3.scaleLinear().domain([0,1]).range([298.7,322.05]);
const bh=21.3;
function grid(x,rows,yOf,data){const g=svg.append("g");
 rows.forEach(r=>{x.domain().forEach(i=>{g.append("rect").attr("x",x(i)).attr("y",yOf(r)).attr("width",x.bandwidth()).attr("height",bh).attr("fill","#dcdcdc")});
  data[r].forEach(([i,s])=>{const X=x(i),Y=yOf(r),w=x.bandwidth();
   if(s.length==1)g.append("rect").attr("x",X).attr("y",Y).attr("width",w).attr("height",bh).attr("fill",stateColor[s]);
   else{const l=d3.line();g.append("path").attr("d",l([[X,Y],[X+w,Y+bh],[X,Y+bh]])).attr("fill",stateColor[s[0]]);g.append("path").attr("d",l([[X,Y],[X+w,Y],[X+w,Y+bh]])).attr("fill",stateColor[s[1]]);}
  })});
}
grid(xL,locusRows,yA,locusLeft);grid(xR,locusRows,yA,locusRight);
const yBr=r=>yB(geneRowPos[geneRows.indexOf(r)]);
grid(xL,geneRows,yBr,geneLeft);grid(xR,geneRows,yBr,geneRight);
[[leftIsolates,xL,12],[rightIsolates,xR,10]].forEach(([L,x,dx])=>L.forEach((t,i)=>svg.append("text").attr("transform",`translate(${x(i)+dx},112.5) rotate(-45)`).attr("font-size",15).text(t)));
rich(svg,1344,136.7,21.5,[["agr",1],[" locus"]]);rich(svg,1344,158,21.5,[["sarZ",1]]);rich(svg,1344,181,21.5,[["PVL locus"]]);
stateLegend.forEach(([k,t],i)=>{const y=d3.scaleLinear().domain([0,1]).range([104.7,125.7])(i);svg.append("rect").attr("x",1514).attr("y",y).attr("width",19).attr("height",19).attr("fill",stateColor[k]);rich(svg,1546,y+15,21.5,[[t]])});
geneDescriptions.forEach(([g,d,y])=>rich(svg,1348,y,21.8,[[g,1,1],[d]]));
// ---------- dendrograms ----------
function dend(seg,sx,sy){svg.append("g").attr("stroke","#000").attr("stroke-width",3.8).selectAll("line").data(seg).join("line").attr("x1",d=>sx(d[0])).attr("y1",d=>sy(d[1])).attr("x2",d=>sx(d[2])).attr("y2",d=>sy(d[3])).attr("stroke-linecap","square")}
dend(dendLeft,frame(0,2.306),frame(0,3));dend(dendRight,frame(650,2.063),frame(0,3));
const sb=svg.append("g").attr("stroke","#000").attr("stroke-width",4);
sb.append("line").attr("x1",1359).attr("x2",1385).attr("y1",218).attr("y2",218);sb.append("line").attr("x1",1359).attr("x2",1385).attr("y1",245).attr("y2",245);sb.append("line").attr("x1",1372).attr("x2",1372).attr("y1",218).attr("y2",245);
rich(svg,1390.7,240,16.5,[["0.001"]]);
// ---------- panel C ----------
const C=svg.append("g");
C.selectAll("rect.bb").data(backbones).join("rect").attr("x",d=>d[0]).attr("width",d=>d[1]-d[0]).attr("y",(d,i)=>i==2?793:791).attr("height",(d,i)=>i==2?19:23).attr("rx",10).attr("fill","#8f8d8d");
C.selectAll("path.a").data(geneArrows).join("path").attr("fill","#8f8d8d").attr("stroke","#000").attr("stroke-width",2.2).attr("stroke-linejoin","miter").attr("d",d=>d.s==d.b?d3.line()([[d.b,758],[d.t,802.7],[d.b,845]])+"Z":d3.line()([[d.s,780],[d.b,780],[d.b,758],[d.t,802.7],[d.b,845],[d.b,822],[d.s,822]])+"Z");
C.selectAll("line.br").data(breaks).join("line").attr("x1",d=>d[0]).attr("y1",d=>d[1]).attr("x2",d=>d[2]).attr("y2",d=>d[3]).attr("stroke","#000").attr("stroke-width",1.8);
C.selectAll("path.m").data(mutationLines).join("path").attr("fill","none").attr("stroke",d=>d[0]).attr("stroke-width",4.6).attr("stroke-linecap","round").attr("stroke-linejoin","round").attr("d",d=>d3.line()(d[1]));
C.append("line").attr("x1",1192).attr("x2",1667).attr("y1",874.5).attr("y2",874.5).attr("stroke","#5aa863").attr("stroke-width",9).attr("stroke-linecap","round");
mutationLabels.forEach(([t,x,y])=>svg.append("text").attr("transform",`translate(${x},${y}) rotate(-45)`).attr("font-size",21.4).text(t));
geneNames.forEach(([t,x,y])=>svg.append("text").attr("transform",`translate(${x},${y}) rotate(-48)`).attr("font-size",28).attr("font-style","italic").text(t));
rich(svg,1680,877,21,[["Complete"]]);rich(svg,1680,903,21,[["deletion"]]);
// ---------- trees ----------
function Tree(){return{edges:[],nodes:[],pies:[]}}
function addChains(T,chains,sx,sy,parent,o){chains.forEach(ch=>{const P=pairs(ch).map(p=>[sx(p[0]),sy(p[1])]);
  T.edges.push({pts:parent?P.concat([[sx(parent[0]),sy(parent[1])]]):P,dash:o.dash,w:o.w});
  if(!o.noNode)P.forEach((p,i)=>{if(o.skipLast&&i==P.length-1)return;T.nodes.push({x:p[0],y:p[1],r:o.r,c:o.c})})})}
function addStar(T,flat,sx,sy,parent,o){addChains(T,pairs(flat),sx,sy,parent,o)}
function addBig(T,list,sx,sy,parent,o){list.forEach(d=>{const X=sx(d[0]),Y=sy(d[1]);if(parent)T.edges.push({pts:[[X,Y],[sx(parent[0]),sy(parent[1])]],dash:o&&o.dash,w:o&&o.w});T.nodes.push({x:X,y:Y,r:d[2],c:d[3]})})}
function drawTree(T,stroke,nodeStroke,sw,layered){const g=svg.append("g");const line=d3.line();
 g.selectAll("path.e").data(T.edges).join("path").attr("fill","none").attr("stroke",stroke).attr("stroke-width",d=>d.dash?1.1:(d.w||1.1)).attr("stroke-dasharray",d=>d.dash?"1.4 1.2":null).attr("d",d=>line(d.pts));
 // the last node listed at a position wins
 const seen=new Map();T.nodes.forEach(n=>seen.set(Math.round(n.x*2)+"_"+Math.round(n.y*2),n));
 const rank=n=>layered?((n.c>=2&&n.r<=6)?2:(n.r>5?1:0)):0;
 const items=[...seen.values()].sort((a,b)=>rank(a)-rank(b)||b.r-a.r);
 g.selectAll("circle").data(items).join("circle").attr("cx",d=>d.x).attr("cy",d=>d.y).attr("r",d=>d.r).attr("fill",d=>nodeColors[d.c]).attr("stroke",nodeStroke).attr("stroke-width",sw);
 T.pies.forEach(p=>{const a=d3.arc().innerRadius(0).outerRadius(p.r);const pg=g.append("g").attr("transform",`translate(${p.x},${p.y})`);
  pg.selectAll("path").data(d3.pie().sort(null).value(d=>d[1]).startAngle(p.a).endAngle(p.a+2*Math.PI)(p.v)).join("path").attr("d",a).attr("fill",d=>nodeColors[d.data[0]]);
  pg.append("circle").attr("r",p.r).attr("fill","none").attr("stroke",nodeStroke).attr("stroke-width",sw)});
 return g}
// frames
const Ax=frame(140,2.45),Ay=frame(1300,3),Bx=frame(0,1.742),By=frame(980,2.8),Cy=frame(1540,2.8);
const D=Tree();
addStar(D,dSolidWedge,Ax,Ay,dHubA,{noNode:true,w:1.7});
addStar(D,dDashWedge,Ax,Ay,dHubA,{noNode:true,dash:true});
addStar(D,dBlueStar,Ax,Ay,dHubA,{r:4.4,c:0,w:1.2});
addStar(D,dLightStar,Ax,Ay,dHubA,{r:3.8,c:1,w:1});
addChains(D,dLightDashChains,Ax,Ay,dHubA,{r:3.8,c:1,dash:true});
addChains(D,dSolidChains,Ax,Ay,dHubA,{r:3.8,c:1});
addStar(D,dRightStar,Ax,Ay,dRightHubA,{r:4.4,c:0,w:1.3});
addBig(D,dBigNodes,Ax,Ay,dHubA,{w:1.2});addBig(D,dSmallColored,Ax,Ay,dHubA,{w:1});
dPies.forEach(p=>{D.pies.push({x:Ax(p[0]),y:Ay(p[1]),r:p[2],a:p[3],v:p[4]});D.edges.push({pts:[[Ax(p[0]),Ay(p[1])],[Ax(dHubA[0]),Ay(dHubA[1])]]})});
addChains(D,dUpperChains,Bx,By,dHubB,{r:3.6,c:1,skipLast:true,w:1.1});
addChains(D,dUpperDashChains,Bx,By,dHubB,{r:3.6,c:1,dash:true,skipLast:true});
addBig(D,dUpperBig,Bx,By,null);addBig(D,dUpperColored,Bx,By,null);
pairs(dUpperDefaultBlue).forEach(p=>D.nodes.push({x:Bx(p[0]),y:By(p[1]),r:3.7,c:0}));
addChains(D,dLowerChains,Bx,Cy,dHubC,{r:3.6,c:1,skipLast:true,w:1.1});
addChains(D,dLowerDashChains,Bx,Cy,dHubC,{r:3.6,c:1,dash:true,skipLast:true});
addBig(D,dLowerBig,Bx,Cy,null);addBig(D,dLowerColored,Bx,Cy,null);addBig(D,dLowerGreen,Bx,Cy,null);
pairs(dLowerBlue).forEach(p=>D.nodes.push({x:Bx(p[0]),y:Cy(p[1]),r:3.7,c:0}));
D.nodes.push({x:Ax(dHubA[0]),y:Ay(dHubA[1]),r:17,c:0});
drawTree(D,"#0a0a0a","#2b3b4b",0.8,true);

const E=Tree();const Ex=frame(900,1.75),Ey=frame(1080,3),Fy=frame(1500,3);
const eo={r:5.1,c:1,w:1.2};
addChains(E,eP1Chains,Ex,Ey,eP1,eo);addChains(E,eP2Chains,Ex,Ey,eP2,eo);addChains(E,eHChains,Ex,Ey,eH,eo);addChains(E,eP3Chains,Ex,Ey,eP3,eo);
eLink.forEach(l=>{E.edges.push({pts:l.map(p=>[Ex(p[0]),Ey(p[1])])});l.forEach(p=>{if(p[1]!=1337)E.nodes.push({x:Ex(p[0]),y:Ey(p[1]),r:5.1,c:1})})});
addChains(E,eHubChains,Ex,Fy,eHub,eo);addChains(E,eSubChains,Ex,Fy,eSub,eo);
E.edges.push({pts:[[Ex(eSub[0]),Fy(eSub[1])],[Ex(eHub[0]),Fy(eHub[1])]]});E.nodes.push({x:Ex(eSub[0]),y:Fy(eSub[1]),r:5.1,c:1});
E.edges.push({pts:[[Ex(eH2[0]),Fy(eH2[1])],[Ex(eHub[0]),Fy(eHub[1])]]});
addBig(E,eLowerBig,Ex,Fy,null);
addBig(E,eUpperBig,Ex,Ey,null);
const Egraph=drawTree(E,"#1a1a1a","#1c2530",1.1,false);
// darker coloured nodes of E drawn above the rest
Egraph.selectAll("circle.dk").data(eUpperDark).join("circle").attr("class","dk").attr("cx",d=>Ex(d[0])).attr("cy",d=>Ey(d[1])).attr("r",5).attr("fill",nodeColors[0]).attr("stroke","#1c2530");
// ---------- titles, scale bars, legends ----------
rich(svg,231,1034,24.8,[["Genbank - USA300"]]);rich(svg,1260,1034,24.8,[["Genbank - USA100"]]);
function bar(x1,x2,y1,y2,lab,cx,ly){svg.append("path").attr("d",d3.line()([[x1,y1],[x1,y2],[x2,y2],[x2,y1]])).attr("fill","none").attr("stroke","#000").attr("stroke-width",2);rich(svg,cx,ly,24.8,[[lab]],"middle")}
bar(584,827,1762,1771,"200",705,1761);bar(1314,1444,1749,1755.5,"300",1379,1749);
const lyD=d3.scaleLinear().domain([0,7]).range([1848,2084]);
legendD.forEach(([c,p],i)=>{svg.append("circle").attr("cx",50.5).attr("cy",lyD(i)).attr("r",13.3).attr("fill",nodeColors[c]).attr("stroke","#111").attr("stroke-width",1.4);rich(svg,78.6,lyD(i)+7.5,24.8,p)});
const lyE=d3.scaleLinear().domain([0,3]).range([1848,1949]);
legendE.forEach(([c,x,p],i)=>{svg.append("circle").attr("cx",989).attr("cy",lyE(i)).attr("r",13.3).attr("fill",nodeColors[c]).attr("stroke","#111").attr("stroke-width",1.4);rich(svg,x,lyE(i)+7.5,24.8,p)});
</script></body></html>
